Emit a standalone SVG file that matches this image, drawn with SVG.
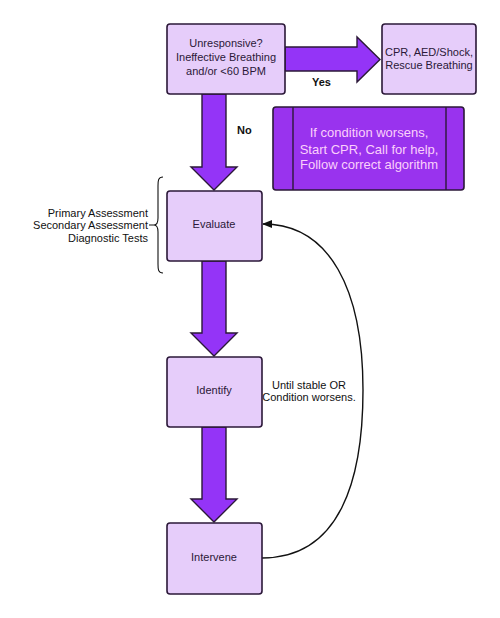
<svg xmlns="http://www.w3.org/2000/svg" width="500" height="618" viewBox="0 0 500 618">
<defs>
<style>
.box{fill:#e6cdfa;stroke:#2b1838;stroke-width:1.6}
.arr{fill:#9434f7;stroke:#2b1838;stroke-width:1.4;stroke-linejoin:miter}
.t{font-family:"Liberation Sans",Arial,sans-serif;font-size:11px;fill:#2b1838;text-anchor:middle}
.lbl{font-family:"Liberation Sans",Arial,sans-serif;font-size:11px;fill:#111;text-anchor:end}
.b{font-family:"Liberation Sans",Arial,sans-serif;font-size:11px;font-weight:bold;fill:#111}
.w{font-family:"Liberation Sans",Arial,sans-serif;font-size:13px;fill:#fbd0fb;text-anchor:middle}
</style>
<marker id="ah" markerWidth="10" markerHeight="8" refX="9" refY="4" orient="auto" markerUnits="userSpaceOnUse">
<path d="M0,0 L10,4 L0,8 Z" fill="#111"/>
</marker>
</defs>
<rect width="500" height="618" fill="#fff"/>
<g id="connectors">
<path class="arr" d="M285,47 H357 V37 L380,59.5 L357,82 V71 H285 Z"/>
<path class="arr" d="M202,94 V167 H191 L214,190 L237,167 H226 V94 Z"/>
<path class="arr" d="M202,261 V333 H191 L214,356 L237,333 H226 V261 Z"/>
<path class="arr" d="M202,427 V499 H191 L214,522 L237,499 H226 V427 Z"/>
<path d="M262,558 C340,558 363,480 363,390 C363,290 330,224 263,224" fill="none" stroke="#111" stroke-width="1.4" marker-end="url(#ah)"/>
<text class="b" x="312" y="86">Yes</text>
<text class="b" x="237" y="134">No</text>
<text class="t" x="309" y="389" style="fill:#111">Until stable OR</text>
<text class="t" x="309" y="401" style="fill:#111">Condition worsens.</text>
</g>
<g id="start">
<rect class="box" x="167" y="24" width="118" height="70" rx="3"/>
<text class="t" x="226" y="47">Unresponsive?</text>
<text class="t" x="226" y="61">Ineffective Breathing</text>
<text class="t" x="226" y="75">and/or &lt;60 BPM</text>
</g>
<g id="cpr">
<rect class="box" x="382" y="24" width="94" height="70" rx="3"/>
<text class="t" x="429" y="56">CPR, AED/Shock,</text>
<text class="t" x="429" y="69">Rescue Breathing</text>
</g>
<g id="worsens">
<rect x="273" y="107" width="191" height="83" rx="3" fill="#9933ee" stroke="#2b1838" stroke-width="1.6"/>
<line x1="293" y1="107" x2="293" y2="190" stroke="#2b1838" stroke-width="1.4"/>
<line x1="446" y1="107" x2="446" y2="190" stroke="#2b1838" stroke-width="1.4"/>
<text class="w" x="369" y="137">If condition worsens,</text>
<text class="w" x="369" y="154">Start CPR, Call for help,</text>
<text class="w" x="369" y="169">Follow correct algorithm</text>
</g>
<g id="evaluate">
<rect class="box" x="167" y="191" width="95" height="70" rx="3"/>
<text class="t" x="214" y="228">Evaluate</text>
</g>
<g id="assessments">
<path d="M163,177 C158,177 158,181 158,186 V218 C158,222 157,225 154,225 C157,225 158,228 158,232 V264 C158,269 158,273 163,273" fill="none" stroke="#111" stroke-width="1.1"/>
<line x1="149" y1="225" x2="154" y2="225" stroke="#111" stroke-width="1"/>
<text class="lbl" x="148" y="217">Primary Assessment</text>
<text class="lbl" x="148" y="229">Secondary Assessment</text>
<text class="lbl" x="148" y="242">Diagnostic Tests</text>
</g>
<g id="identify">
<rect class="box" x="167" y="357" width="95" height="70" rx="3"/>
<text class="t" x="214" y="394">Identify</text>
</g>
<g id="intervene">
<rect class="box" x="167" y="523" width="95" height="71" rx="3"/>
<text class="t" x="214" y="561">Intervene</text>
</g>
</svg>
